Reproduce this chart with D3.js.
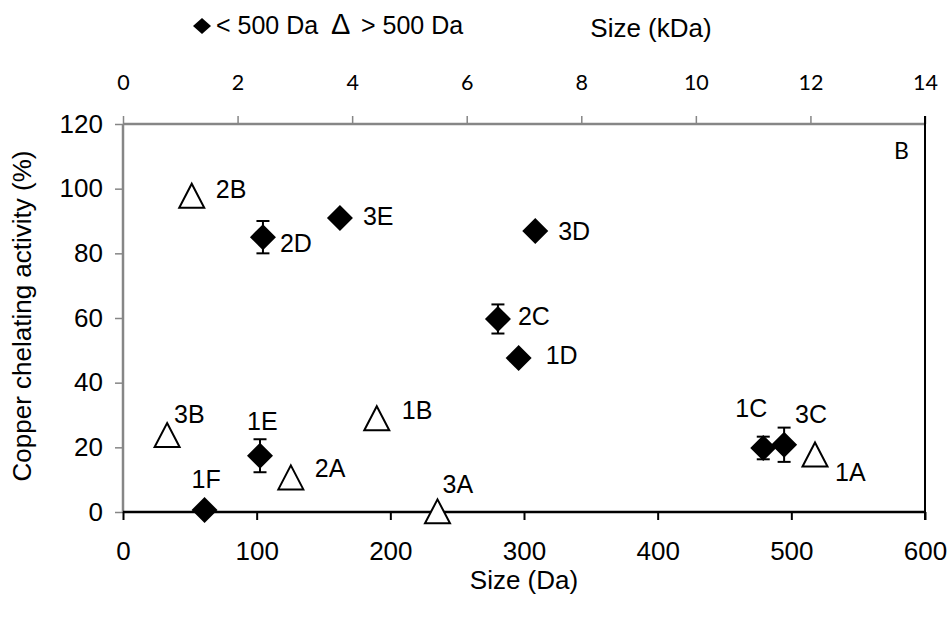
<!DOCTYPE html>
<html>
<head>
<meta charset="utf-8">
<script src="https://cdn.jsdelivr.net/npm/d3@7"></script>
<style>
  body { margin: 0; background: #fff; }
  text { font-family: "Liberation Sans", Arial, sans-serif; fill: #000; }
</style>
</head>
<body>
<script>
// data

// fractions < 500 Da, plotted on the bottom axis (Da)
var smallNames = ["1F", "1E", "2D", "3E", "2C", "1D", "3D", "1C", "3C"];
var smallSize = [61, 102.5, 104.7, 162.3, 280.5, 296, 308.4, 479, 494.6];
var smallActivity = [0.6, 17.4, 85, 90.9, 59.7, 47.6, 86.9, 19.8, 20.8];
var smallError = [0, 5.1, 5, 0, 4.5, 0, 0, 3.5, 5.3];

// fractions > 500 Da, plotted on the top axis (kDa)
var largeNames = ["2B", "3B", "2A", "1B", "3A", "1A"];
var largeSize = [1.2, 0.77, 2.93, 4.43, 5.49, 12.08];
var largeActivity = [97.8, 23.8, 10.7, 29.0, 0.2, 17.8];

var daTicks = [0, 100, 200, 300, 400, 500, 600];
var kdaTicks = [0, 2, 4, 6, 8, 10, 12, 14];
var yTicks = [0, 20, 40, 60, 80, 100, 120];

// where each point label sits relative to its marker
var labelOffsets = {
  "1F": [-13, -22], "1E": [-13, -26], "2D": [17, 15], "3E": [23, 7],
  "2C": [20, 6], "1D": [27, 6], "3D": [23, 9], "1C": [-28, -31],
  "3C": [11, -22], "2B": [24, 2], "3B": [7, -12], "2A": [24, 0],
  "1B": [25, 1], "3A": [5, -18], "1A": [20, 27]
};

var width = 952, height = 618;
var margin = { top: 124, right: 27, bottom: 106, left: 123 };
var w = width - margin.left - margin.right;
var h = height - margin.top - margin.bottom;

var svg = d3.select("body").append("svg")
  .attr("width", width)
  .attr("height", height);

var g = svg.append("g")
  .attr("transform", "translate(" + margin.left + "," + margin.top + ")");

var x = d3.scaleLinear().domain([0, 600]).range([0, w]);
var xTop = d3.scaleLinear().domain([0, 14]).range([0, w]);
var y = d3.scaleLinear().domain([0, 120]).range([h, 0]);

var grey = "#868686";

// left axis (grey)
g.append("g")
  .call(d3.axisLeft(y).tickValues(yTicks).tickSize(8).tickPadding(12))
  .call(function(a) {
    a.select(".domain").remove();
    a.selectAll("line").attr("stroke", grey).attr("stroke-width", 1.5);
    a.selectAll("text").style("font-size", "26px");
  });
g.append("line").attr("x1", 0).attr("x2", 0).attr("y1", 0).attr("y2", h)
  .attr("stroke", grey).attr("stroke-width", 2.5);

// top axis (grey, kDa)
g.append("g")
  .call(d3.axisTop(xTop).tickValues(kdaTicks).tickSize(8).tickPadding(26))
  .call(function(a) {
    a.select(".domain").remove();
    a.selectAll("line").attr("stroke", grey).attr("stroke-width", 1.5);
    a.selectAll("text").style("font-size", "21.5px").style("font-family", "Lato, 'Open Sans', sans-serif");
  });
g.append("line").attr("x1", 0).attr("x2", w).attr("y1", 0).attr("y2", 0)
  .attr("stroke", grey).attr("stroke-width", 2.5);

// right border (black)
g.append("line").attr("x1", w).attr("x2", w).attr("y1", -8).attr("y2", h + 8)
  .attr("stroke", "#000").attr("stroke-width", 2);

// bottom axis (black, Da)
g.append("g")
  .attr("transform", "translate(0," + h + ")")
  .call(d3.axisBottom(x).tickValues(daTicks).tickSize(8).tickPadding(22))
  .call(function(a) {
    a.select(".domain").remove();
    a.selectAll("line").attr("stroke", "#000").attr("stroke-width", 2);
    a.selectAll("text").style("font-size", "26px");
  });
g.append("line").attr("x1", 0).attr("x2", w).attr("y1", h).attr("y2", h)
  .attr("stroke", "#000").attr("stroke-width", 2.5);

// axis titles
svg.append("text")
  .attr("x", 524).attr("y", 589)
  .attr("text-anchor", "middle")
  .style("font-size", "26px")
  .text("Size (Da)");

svg.append("text")
  .attr("x", 651).attr("y", 37)
  .attr("text-anchor", "middle")
  .style("font-size", "26px")
  .text("Size (kDa)");

svg.append("text")
  .attr("transform", "translate(31,316) rotate(-90)")
  .attr("text-anchor", "middle")
  .style("font-size", "26px")
  .text("Copper chelating activity (%)");

svg.append("text")
  .attr("x", 894).attr("y", 159)
  .style("font-size", "23px")
  .style("font-family", "Lato, 'Open Sans', sans-serif")
  .text("B");

// legend
svg.append("path")
  .attr("transform", "translate(202,26)")
  .attr("d", "M0,-8L9,0L0,8L-9,0Z")
  .attr("fill", "#000");
svg.append("text").attr("x", 216).attr("y", 34).style("font-size", "25px").text("< 500 Da");
svg.append("text").attr("x", 331).attr("y", 34).style("font-size", "29px").text("\u0394");
svg.append("text").attr("x", 361).attr("y", 34).style("font-size", "25px").text("> 500 Da");

// build point tables
var small = smallNames.map(function(n, i) {
  return { name: n, cx: x(smallSize[i]), cy: y(smallActivity[i]), v: smallActivity[i], err: smallError[i] };
});
var large = largeNames.map(function(n, i) {
  return { name: n, cx: xTop(largeSize[i]), cy: y(largeActivity[i]) };
});

// error bars
var eb = g.append("g").attr("class", "errorbars")
  .selectAll("g")
  .data(small.filter(function(d) { return d.err > 0; }))
  .enter().append("g")
  .attr("stroke", "#000").attr("stroke-width", 2);
eb.append("line")
  .attr("x1", function(d) { return d.cx; }).attr("x2", function(d) { return d.cx; })
  .attr("y1", function(d) { return y(d.v + d.err); })
  .attr("y2", function(d) { return y(d.v - d.err); });
eb.append("line")
  .attr("x1", function(d) { return d.cx - 6.5; }).attr("x2", function(d) { return d.cx + 6.5; })
  .attr("y1", function(d) { return y(d.v + d.err); })
  .attr("y2", function(d) { return y(d.v + d.err); });
eb.append("line")
  .attr("x1", function(d) { return d.cx - 6.5; }).attr("x2", function(d) { return d.cx + 6.5; })
  .attr("y1", function(d) { return y(d.v - d.err); })
  .attr("y2", function(d) { return y(d.v - d.err); });

// diamonds
g.append("g").attr("class", "diamonds")
  .selectAll("path")
  .data(small)
  .enter().append("path")
  .attr("transform", function(d) { return "translate(" + d.cx + "," + d.cy + ")"; })
  .attr("d", "M0,-13L13,0L0,13L-13,0Z")
  .attr("fill", "#000");

// triangles
g.append("g").attr("class", "triangles")
  .selectAll("path")
  .data(large)
  .enter().append("path")
  .attr("transform", function(d) { return "translate(" + d.cx + "," + d.cy + ")"; })
  .attr("d", "M0,-12L12.5,12L-12.5,12Z")
  .attr("fill", "#fff")
  .attr("stroke", "#000")
  .attr("stroke-width", 2);

// point labels
g.append("g").attr("class", "labels")
  .selectAll("text")
  .data(small.concat(large))
  .enter().append("text")
  .attr("x", function(d) { return d.cx + labelOffsets[d.name][0]; })
  .attr("y", function(d) { return d.cy + labelOffsets[d.name][1]; })
  .style("font-size", "25px")
  .text(function(d) { return d.name; });
</script>
</body>
</html>
